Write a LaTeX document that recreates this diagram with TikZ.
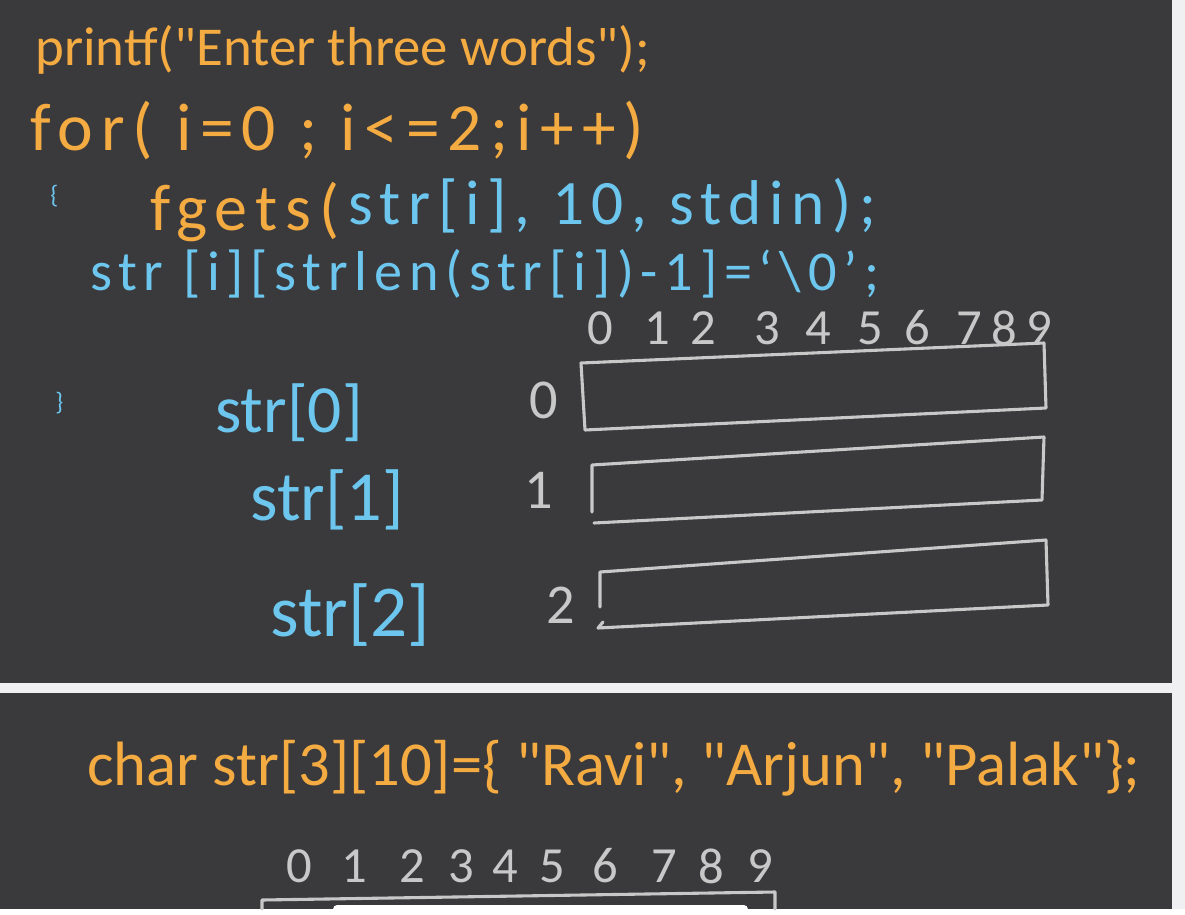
\documentclass[tikz,border=0pt]{standalone}
\usepackage{fontspec}
\setmainfont{Carlito}[Ligatures=TeXOff]
\usetikzlibrary{positioning}
\definecolor{board}{RGB}{58,57,60}
\definecolor{paper}{RGB}{240,240,242}
\definecolor{chalkorange}{RGB}{243,171,66}
\definecolor{chalkblue}{RGB}{108,198,238}
\definecolor{chalkgray}{RGB}{200,200,200}

\begin{document}
\begin{tikzpicture}[
  x=0.025cm, y=-0.025cm,
  fs/.style={font=\fontsize{#1}{#1}\selectfont},
  spaced/.style={font=\fontsize{#1}{#1}\selectfont\addfontfeature{LetterSpace=12}},
  codeorange/.style={text=chalkorange, inner sep=0pt, anchor=base west},
  codeblue/.style={text=chalkblue, inner sep=0pt, anchor=base west},
  chalkdigit/.style={text=chalkgray, inner sep=0pt, font=\fontsize{36}{36}\selectfont},
  cell/.style={draw=chalkgray, line width=2.2pt, line join=round, line cap=round}
]
% board and the two panels
\fill[paper] (0,0) rectangle (1185,909);
\fill[board] (0,0) rectangle (1172,683);
\fill[board] (0,693) rectangle (1172,909);

% upper panel: reading three words
\node[codeorange, fs=39] (printf) at (35,65) {printf("Enter three words");};
\node[codeorange, spaced=48] (forloop) at (30,150) {for( i=0 ;  i<=2;i++)};
\node[codeblue, fs=18] (open) at (50,203) {\{};
\node[codeorange, spaced=47] (fgets) at (150,230) {fgets(};
\node[codeblue, spaced=45] (args) at (348,224) {str[i], 10, stdin);};
\node[codeblue, spaced=40] (nullterm) at (90,290) {str [i][strlen(str[i])-1]=‘\textbackslash0’;};
\node[codeblue, fs=18] (close) at (55,410) {\}};

% column indices
\foreach \d/\px in {0/600,1/657,2/703,3/767,4/818,5/870,6/917,7/969,8/1004,9/1039}
  \node[chalkdigit] (top\d) at (\px,328) {\d};

% the three rows
\draw[cell] (581,363) -- (1044,343) -- (1046,408) -- (585,430) -- cycle;
\draw[cell] (592,512) -- (592,465) -- (1044,437) -- (1042,500) -- (594,523);
\draw[cell] (600,607) -- (600,572) -- (1046,540) -- (1048,605) -- (598,628) -- (603,622);
\node[chalkdigit, fs=40] (idx0) at (544,400) {0};
\node[chalkdigit, fs=40] (idx1) at (539,490) {1};
\node[chalkdigit, fs=40] (idx2) at (561,605) {2};
\node[codeblue, fs=48] (row0) at (215,432) {str[0]};
\node[codeblue, fs=50] (row1) at (250,520) {str[1]};
\node[codeblue, fs=52] (row2) at (270,636) {str[2]};

% lower panel: initialised array
\node[codeorange, fs=44.5] (init) at (87,785) {char str[3][10]=\{ "Ravi", "Arjun", "Palak"\};};
\foreach \d/\px in {0/299,1/354,2/412,3/461,4/505,5/552,6/605,7/664,8/711,9/760}
  \node[chalkdigit] (low\d) at (\px,866) {\d};
\draw[cell] (262,909) -- (262,900) -- (775,892) -- (775,909);
\fill[white, rounded corners=3pt] (333,905) rectangle (748,915);
\useasboundingbox (0,0) rectangle (1185,909);
\end{tikzpicture}
\end{document}
